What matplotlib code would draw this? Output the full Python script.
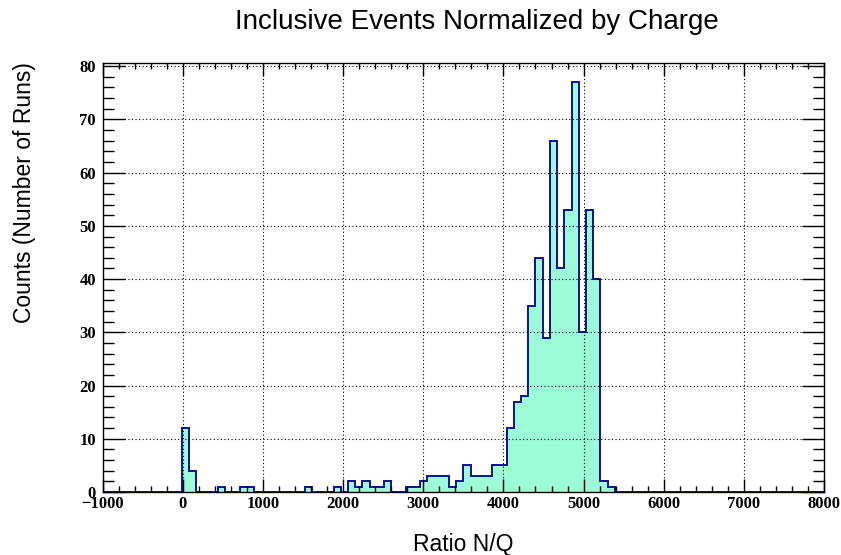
import numpy as np
import matplotlib
matplotlib.use("Agg")
import matplotlib.pyplot as plt
from matplotlib.ticker import MultipleLocator

# -----------------------------
# Histogram data: 100 bins from -1000 to 8000
# -----------------------------
x_min = -1000
x_max = 8000
n_bins = 100

counts = [
    0, 0, 0, 0, 0, 0, 0, 0, 0, 0,
    0, 12, 4, 0, 0, 0, 1, 0, 0, 1,
    1, 0, 0, 0, 0, 0, 0, 0, 1, 0,
    0, 0, 1, 0, 2, 1, 2, 1, 1, 2,
    0, 0, 1, 1, 2, 3, 3, 3, 1, 2,
    5, 3, 3, 3, 5, 5, 12, 17, 18, 35,
    44, 29, 66, 42, 53, 77, 30, 53, 40, 2,
    1, 0, 0, 0, 0, 0, 0, 0, 0, 0,
    0, 0, 0, 0, 0, 0, 0, 0, 0, 0,
    0, 0, 0, 0, 0, 0, 0, 0, 0, 0,
]

title = "Inclusive Events Normalized by Charge"
x_label = "Ratio N/Q"
y_label = "Counts (Number of Runs)"

edges = np.linspace(x_min, x_max, n_bins + 1)

fill_color = "#9cfcd8"
line_color = "#101099"

# -----------------------------
# Figure
# -----------------------------
W, H = 841, 555
fig = plt.figure(figsize=(W / 100, H / 100), dpi=100)
ax_left, ax_right, ax_top, ax_bottom = 102.7, 824.0, 63.3, 492.0
ax = fig.add_axes([ax_left / W, 1 - ax_bottom / H,
                   (ax_right - ax_left) / W, (ax_bottom - ax_top) / H])

ax.stairs(counts, edges, fill=True, color=fill_color, zorder=1)
ax.stairs(counts, edges, color=line_color, linewidth=1.4, baseline=0, zorder=1.2)

ax.set_xlim(x_min, x_max)
ax.set_ylim(0, max(counts) * 1.046)

ax.xaxis.set_major_locator(MultipleLocator(1000))
ax.xaxis.set_minor_locator(MultipleLocator(200))
ax.yaxis.set_major_locator(MultipleLocator(10))
ax.yaxis.set_minor_locator(MultipleLocator(2))

ax.grid(True, which="major", color="black", linestyle=(0, (1, 2.2)), linewidth=0.8)

ax.tick_params(axis="both", which="both", direction="in", top=True, right=True,
               width=1.0, color="black")
ax.tick_params(axis="x", which="major", length=9.3, pad=3)
ax.tick_params(axis="x", which="minor", length=4.6)
ax.tick_params(axis="y", which="major", length=15.5, pad=5)
ax.tick_params(axis="y", which="minor", length=7.8)

for lab in ax.get_xticklabels() + ax.get_yticklabels():
    lab.set_fontfamily("Liberation Serif")
    lab.set_fontweight("bold")
    lab.set_fontsize(12)

for sp in ax.spines.values():
    sp.set_linewidth(1.0)
    sp.set_zorder(3)

# -----------------------------
# Titles
# -----------------------------
fig.text(477 / W, 1 - 22 / H, title, ha="center", va="center",
         fontfamily="Liberation Sans", fontsize=20)
fig.text(463 / W, 1 - 545 / H, x_label, ha="center", va="center",
         fontfamily="Liberation Sans", fontsize=16.5)
fig.text(25 / W, 1 - 193 / H, y_label, ha="center", va="center", rotation=90,
         fontfamily="Liberation Sans", fontsize=16.5)

fig.savefig("out.png", dpi=100)
plt.close(fig)
